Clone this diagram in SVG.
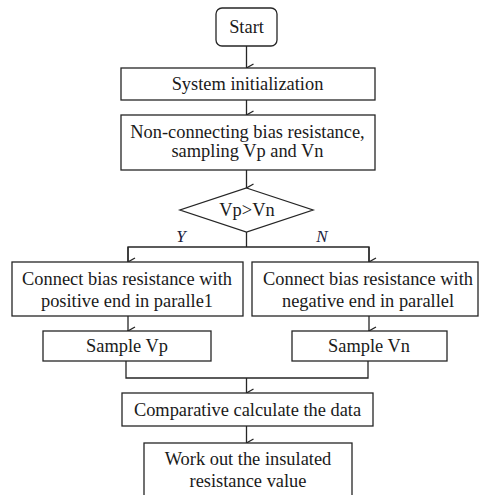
<svg xmlns="http://www.w3.org/2000/svg" width="479" height="495" viewBox="0 0 479 495">
  <style>
    .box { fill: #ffffff; stroke: #262626; stroke-width: 1.3; }
    .wire { fill: none; stroke: #262626; stroke-width: 1.3; }
    .label { font-family: "Liberation Serif", "Times New Roman", serif; font-size: 18.4px; fill: #1a1a1a; text-anchor: middle; }
    .branch { font-family: "Liberation Serif", "Times New Roman", serif; font-size: 17px; font-style: italic; fill: #1c2140; text-anchor: middle; }
  </style>
  <defs>
    <marker id="arrow" viewBox="0 0 10 10" refX="5" refY="9" markerWidth="10" markerHeight="10" markerUnits="userSpaceOnUse" orient="auto-start-reverse">
      <polyline points="1,2 5,9 9,2" fill="none" stroke="#262626" stroke-width="1.3"/>
    </marker>
  </defs>
  <rect width="479" height="495" fill="#ffffff"/>

  <g id="connectors">
    <line class="wire" x1="246.5" y1="46" x2="246.5" y2="68" marker-end="url(#arrow)"/>
    <line class="wire" x1="246.5" y1="100" x2="246.5" y2="115" marker-end="url(#arrow)"/>
    <line class="wire" x1="246.5" y1="170" x2="246.5" y2="188" marker-end="url(#arrow)"/>
    <polyline class="wire" points="246.5,232 246.5,247"/>
    <polyline class="wire" points="128,261.5 128,247 369,247 369,261.5"/>
    <line class="wire" x1="128" y1="247" x2="128" y2="262" marker-end="url(#arrow)"/>
    <line class="wire" x1="369" y1="247" x2="369" y2="262" marker-end="url(#arrow)"/>
    <line class="wire" x1="128" y1="316" x2="128" y2="331" marker-end="url(#arrow)"/>
    <line class="wire" x1="369" y1="316" x2="369" y2="331" marker-end="url(#arrow)"/>
    <polyline class="wire" points="126,361 126,378 368,378 368,361"/>
    <line class="wire" x1="246.5" y1="378" x2="246.5" y2="393" marker-end="url(#arrow)"/>
    <line class="wire" x1="246.5" y1="426" x2="246.5" y2="443" marker-end="url(#arrow)"/>
    <text class="branch" x="181" y="242">Y</text>
    <text class="branch" x="322" y="242">N</text>
  </g>

  <g id="start">
    <rect class="box" x="216" y="8" width="61" height="38" rx="6" ry="6"/>
    <text class="label" x="246.5" y="33">Start</text>
  </g>

  <g id="init">
    <rect class="box" x="121" y="68" width="254" height="32"/>
    <text class="label" x="247.5" y="90">System initialization</text>
  </g>

  <g id="sample-open">
    <rect class="box" x="121" y="115" width="254" height="55"/>
    <text class="label" x="247.5" y="138">Non-connecting bias resistance,</text>
    <text class="label" x="247.5" y="157">sampling Vp and Vn</text>
  </g>

  <g id="compare">
    <polygon class="box" points="246.5,188 313,210 246.5,232 180,210"/>
    <text class="label" x="247" y="216">Vp&gt;Vn</text>
  </g>

  <g id="connect-positive">
    <rect class="box" x="12" y="262" width="231" height="54"/>
    <text class="label" x="127" y="285">Connect bias resistance with</text>
    <text class="label" x="127" y="307">positive end in paralle1</text>
  </g>

  <g id="connect-negative">
    <rect class="box" x="252" y="262" width="226" height="54"/>
    <text class="label" x="368" y="285">Connect bias resistance with</text>
    <text class="label" x="368" y="307">negative end in parallel</text>
  </g>

  <g id="sample-vp">
    <rect class="box" x="43" y="331" width="168" height="30"/>
    <text class="label" x="127" y="352">Sample Vp</text>
  </g>

  <g id="sample-vn">
    <rect class="box" x="292" y="331" width="155" height="30"/>
    <text class="label" x="369" y="352">Sample Vn</text>
  </g>

  <g id="calculate">
    <rect class="box" x="122" y="393" width="251" height="33"/>
    <text class="label" x="247.5" y="416">Comparative calculate the data</text>
  </g>

  <g id="result">
    <rect class="box" x="144" y="443" width="208" height="60"/>
    <text class="label" x="248" y="465">Work out the insulated</text>
    <text class="label" x="248" y="487">resistance value</text>
  </g>
</svg>
